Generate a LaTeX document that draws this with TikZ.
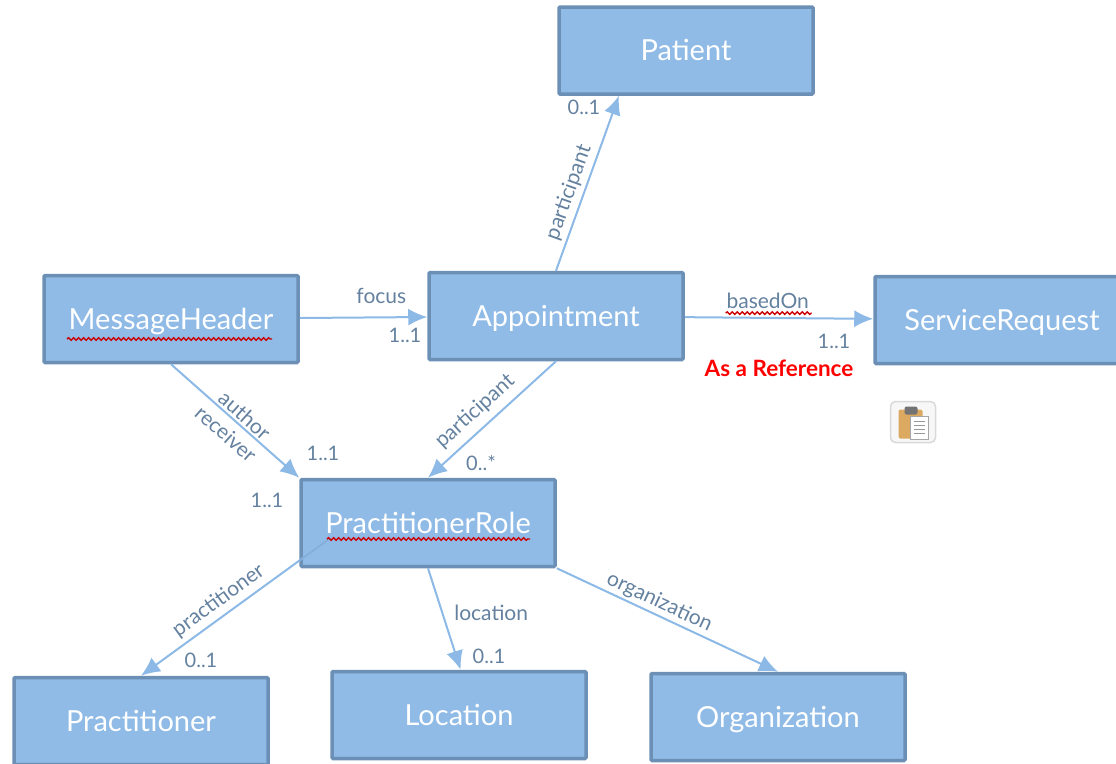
\documentclass[tikz,border=0pt]{standalone}
\usepackage{fontspec}
\setmainfont{Lato}
\usetikzlibrary{arrows.meta,positioning,decorations.pathmorphing}
\definecolor{boxfill}{HTML}{8FBBE6}
\definecolor{boxline}{HTML}{6B8FB5}
\definecolor{edgeline}{HTML}{8CB9E6}
\definecolor{labeltext}{HTML}{64819F}
\definecolor{boardtan}{HTML}{DBA95F}
\tikzset{
	box/.style={draw=boxline,fill=boxfill,line width=3.5pt,rounded corners=1pt,minimum width=254pt,minimum height=87pt,inner sep=0pt,text=white,text height=20pt,text depth=0pt,font=\fontsize{29}{30}\selectfont},
	lbl/.style={text=labeltext,font=\fontsize{21}{24}\selectfont,inner sep=2pt},
	mult/.style={lbl,font=\fontsize{20}{24}\selectfont},
	spell/.style={draw=red!80!black,line width=1.4pt,decorate,decoration={snake,amplitude=1.3pt,segment length=5pt}},
	faint/.style={draw=boxline!30!boxfill,line width=1.5pt},
}
\begin{document}
\begin{tikzpicture}[x=1pt,y=-1pt,node distance=100pt,on grid,>={Latex[length=19pt,width=17pt]}]
			\clip (0,0) rectangle (1116,763);
			\node[box] (Appointment) at (556,316) {Appointment};
			\node[box] (Patient) [above right=265.5pt and 130pt of Appointment] {Patient};
			\node[box] (MessageHeader) [below left=3pt and 385pt of Appointment] {MessageHeader};
			\node[box] (ServiceRequest) [below right=4pt and 446pt of Appointment] {ServiceRequest};
			\node[box] (PractitionerRole) [below left=207pt and 128pt of Appointment] {PractitionerRole};
			\node[box] (Practitioner) [below left=198pt and 287pt of PractitionerRole] {Practitioner};
			\node[box] (Location) [below right=192pt and 31pt of PractitionerRole] {Location};
			\node[box] (Organization) [below right=194pt and 350pt of PractitionerRole] {Organization};
			\coordinate (roleTail) at ([xshift=-99pt,yshift=-16pt]PractitionerRole.center);
			\path[->,color=edgeline,line width=2pt]
			(MessageHeader) edge node [lbl,above,pos=.64,yshift=11pt] (lblFocus) {focus} (Appointment)
			(Appointment.north) edge node [lbl,sloped,above=2pt,pos=.42] (lblPatient) {participant} (Patient.214)
			(Appointment) edge node [lbl,above,pos=.44,yshift=6pt] (lblBased) {basedOn} (ServiceRequest)
			(MessageHeader.south) edge node [lbl,sloped,above,pos=.52] (lblAuthor) {author} node [lbl,sloped,below=5pt,pos=.51] (lblReceiver) {receiver} (PractitionerRole.north west)
			(Appointment.south) edge node [lbl,sloped,above=5pt,pos=.54] (lblRole) {participant} (PractitionerRole.north)
			(roleTail) edge node [lbl,sloped,above=2.5pt,pos=.54] (lblPractitioner) {practitioner} (Practitioner.north)
			(PractitionerRole.south) edge node [lbl,right,pos=.44,xshift=9pt] (lblLocation) {location} (Location.88)
			(PractitionerRole.south east) edge node [lbl,sloped,above,pos=.44] (lblOrganization) {organization} (Organization.north);
			\draw[faint] (roleTail) -- ([xshift=-129pt,yshift=-38pt]PractitionerRole.center);
			\node[mult] (multPatient) [below left=56.5pt and 102pt of Patient] {0..1};
			\node[mult] (multAppointment) [below left=19pt and 151pt of Appointment] {1..1};
			\node[mult] (multService) [below left=21pt and 168pt of ServiceRequest] {1..1};
			\node[lbl,text=red,font=\fontsize{22.5}{24}\selectfont\bfseries] (asReference) [below left=48pt and 223pt of ServiceRequest] {As a Reference};
			\node[mult] (multAuthor) [above left=70pt and 105pt of PractitionerRole] {1..1};
			\node[mult] (multReceiver) [above left=23pt and 161pt of PractitionerRole] {1..1};
			\node[mult] (multRole) [above right=60pt and 53pt of PractitionerRole] {0..*};
			\node[mult] (multPractitioner) [above right=61pt and 60pt of Practitioner] {0..1};
			\node[mult] (multLocation) [above right=59pt and 30pt of Location] {0..1};
			% spelling marks
			\draw[spell] ([xshift=-104pt,yshift=-20pt]MessageHeader.center) -- ([xshift=101pt,yshift=-20pt]MessageHeader.center);
			\draw[spell] ([xshift=-101pt,yshift=-16pt]PractitionerRole.center) -- ([xshift=102pt,yshift=-16pt]PractitionerRole.center);
			\draw[spell] ([yshift=-12pt,xshift=-42pt]lblBased.center) -- ([yshift=-12pt,xshift=44pt]lblBased.center);
			% clipboard icon
			\node[draw=black!15,fill=black!3,line width=1.5pt,rounded corners=5pt,minimum width=45pt,minimum height=41pt] (Clipboard) [below left=102pt and 89pt of ServiceRequest] {};
			\begin{scope}[shift={(Clipboard.center)}]
				\fill[boardtan,rounded corners=2pt] (-14.5,-12.5) rectangle (9.5,16.5);
				\fill[black!55,rounded corners=2pt] (-8.5,-15.5) rectangle (4.5,-7.5);
				\filldraw[draw=black!35,fill=white,line width=1pt] (-2.5,-5.5) rectangle (15.5,17.5);
				\foreach \y in {-1,3,7,11}
					\draw[black!40,line width=1pt] (1,\y) -- (12,\y);
			\end{scope}
		\end{tikzpicture}
\end{document}
